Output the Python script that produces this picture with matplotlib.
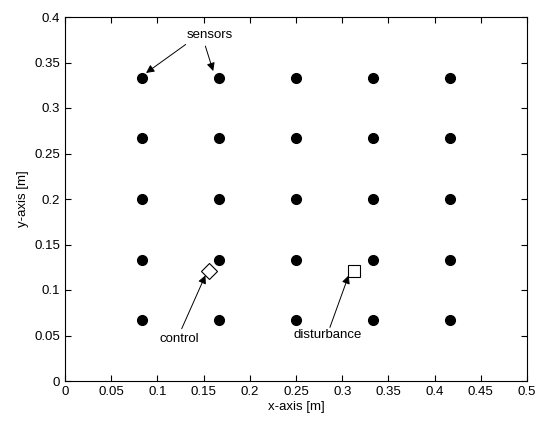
import matplotlib
matplotlib.use("Agg")
import matplotlib.pyplot as plt
import numpy as np

plt.rcParams['font.family'] = ['Liberation Sans', 'DejaVu Sans']

# Data
sensor_x = [1/12, 2/12, 3/12, 4/12, 5/12]
sensor_y = [1/15, 2/15, 3/15, 4/15, 5/15]
control_xy = (0.156, 0.121)
disturbance_xy = (0.3125, 0.121)
x_ticks = [0, 0.05, 0.1, 0.15, 0.2, 0.25, 0.3, 0.35, 0.4, 0.45, 0.5]
y_ticks = [0, 0.05, 0.1, 0.15, 0.2, 0.25, 0.3, 0.35, 0.4]
x_tick_labels = ['0', '0.05', '0.1', '0.15', '0.2', '0.25', '0.3', '0.35', '0.4', '0.45', '0.5']
y_tick_labels = ['0', '0.05', '0.1', '0.15', '0.2', '0.25', '0.3', '0.35', '0.4']

fig = plt.figure(figsize=(5.4, 4.21), dpi=100)
ax = fig.add_axes([65/540, 1-381/421, 462/540, 364/421])

gx, gy = np.meshgrid(sensor_x, sensor_y)
ax.plot(gx.ravel(), gy.ravel(), 'o', color='k', markersize=7, linestyle='none')
ax.plot([control_xy[0]], [control_xy[1]], 'D', markerfacecolor='white',
        markeredgecolor='k', markersize=8, markeredgewidth=0.8)
ax.plot([disturbance_xy[0]], [disturbance_xy[1]], 's', markerfacecolor='white',
        markeredgecolor='k', markersize=8, markeredgewidth=0.8)

ax.set_xlim(0, 0.5)
ax.set_ylim(0, 0.4)
ax.set_xticks(x_ticks)
ax.set_xticklabels(x_tick_labels)
ax.set_yticks(y_ticks)
ax.set_yticklabels(y_tick_labels)
ax.tick_params(direction='in', top=True, right=True, labelsize=9.5, length=4, width=0.8)
for s in ax.spines.values():
    s.set_linewidth(0.8)
ax.set_xlabel('x-axis [m]', fontsize=9.5, labelpad=2)
ax.set_ylabel('y-axis [m]', fontsize=9.5, labelpad=4)

ap = dict(arrowstyle='-|>', color='k', lw=0.7, mutation_scale=12, shrinkA=0, shrinkB=0)
ax.text(0.1567, 0.380, 'sensors', ha='center', va='center', fontsize=9.5)
ax.annotate('', xy=(0.0877, 0.3385), xytext=(0.1306, 0.3698), arrowprops=ap)
ax.annotate('', xy=(0.1604, 0.3406), xytext=(0.1519, 0.368), arrowprops=ap)

ax.text(0.1233, 0.0458, 'control', ha='center', va='center', fontsize=9.5)
ax.annotate('', xy=(0.152, 0.1161), xytext=(0.1263, 0.0575), arrowprops=ap)

ax.text(0.284, 0.051, 'disturbance', ha='center', va='center', fontsize=9.5)
ax.annotate('', xy=(0.307, 0.116), xytext=(0.2867, 0.0589), arrowprops=ap)

fig.savefig('out.png', dpi=100)
